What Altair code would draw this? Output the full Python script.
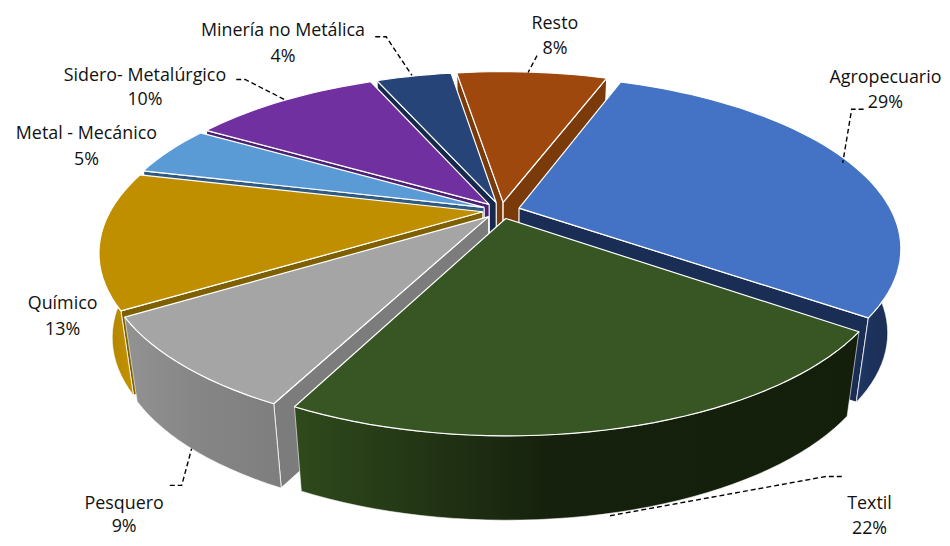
import math
import altair as alt
import pandas as pd

sectors = ["Agropecuario", "Textil", "Pesquero", "Químico", "Metal - Mecánico",
           "Sidero- Metalúrgico", "Minería no Metálica", "Resto"]
pct_labels = ["29%", "22%", "9%", "13%", "5%", "10%", "4%", "8%"]
# unrounded estimates behind the printed percentages
shares = [29.4, 22.45, 8.7, 12.7, 4.75, 10, 4, 8]
top_colors = ["#4472C4", "#375623", "#A5A5A5", "#BF8F00", "#5B9BD5", "#7030A0", "#264478", "#9E480E"]
wall_left = ["#1F3864", "#2F4A1C", "#929292", "#A87E00", "#3F6E98", "#4F2272", "#1A2F55", "#7A3A0A"]
wall_mid = ["#1C3059", "#16210D", "#868686", "#B58800", "#3F6E98", "#4F2272", "#1A2F55", "#7A3A0A"]
wall_right = ["#1A2E54", "#131E0B", "#7E7E7E", "#C59300", "#3F6E98", "#4F2272", "#1A2F55", "#7A3A0A"]
face_colors = ["#1A2D54", "#1F3015", "#7C7C7C", "#7F6000", "#2F5A82", "#4A2070", "#16294D", "#7A3A0A"]

label_x = [892, 876, 125, 63, 87, 146, 285, 559]
label_y1 = [77, 506, 506, 304, 133, 75, 29, 22]
label_y2 = [102, 531, 529, 330, 159, 99, 55, 47]

leaders = [
    [(870, 108), (858, 108), (849, 162)],
    [(848, 478), (832, 478), (612, 518)],
    [(171, 487), (183, 487), (193, 450)],
    [(378, 35), (389, 35), (415, 74)],
    [(238, 78), (247, 78), (288, 99)],
    [(541, 54), (532, 71)],
]

CX, CY, RX, RY, K, EXPL, START = 505, 210, 375, 165, 0.227, 0.05, 20.0
DROP, SHRINK = 85, 0.967


def project(wx, wy, low=False):
    p = 1 / (1 + K * wy)
    sx = CX + RX * wx * p
    sy = CY - RY * wy * p
    if low:
        sx = CX + (sx - CX) * SHRINK
        sy = sy + DROP
    return sx, sy


def world_arc(a0, a1, bis):
    ox, oy = EXPL * math.sin(bis), EXPL * math.cos(bis)
    n = max(6, int(abs(a1 - a0) / math.radians(2)))
    angs = [a0 + (a1 - a0) * i / n for i in range(n + 1)]
    return (ox, oy), [(ox + math.sin(a), oy + math.cos(a)) for a in angs], angs


x_scale = alt.Scale(domain=[8, 942], nice=False, zero=False)
y_scale = alt.Scale(domain=[538, 8], nice=False, zero=False)


def poly(points, fill, stroke="white", width=1.2):
    df = pd.DataFrame({"px": [p[0] for p in points] + [points[0][0]],
                       "py": [p[1] for p in points] + [points[0][1]],
                       "i": list(range(len(points) + 1))})
    return alt.Chart(df).mark_line(fill=fill, stroke=stroke, strokeWidth=width, strokeJoin="round").encode(
        x=alt.X("px:Q", scale=x_scale, axis=None),
        y=alt.Y("py:Q", scale=y_scale, axis=None),
        order=alt.Order("i:Q"),
    )


total = sum(shares)
slices = []
angle = math.radians(START)
for i, s in enumerate(shares):
    sweep = math.radians(360 * s / total)
    slices.append((i, angle, angle + sweep, angle + sweep / 2))
    angle += sweep

layers = []
for i, a0, a1, bis in sorted(slices, key=lambda t: -math.cos(t[3])):
    apex, arc, angs = world_arc(a0, a1, bis)
    top = [project(*apex)] + [project(*q) for q in arc]
    face = face_colors[i]
    # radial faces turned towards the viewer
    if math.sin(a0) < 0:
        layers.append(poly([project(*apex), project(*arc[0]), project(*arc[0], low=True), project(*apex, low=True)], face))
    if math.sin(a1) > 0:
        layers.append(poly([project(*apex), project(*arc[-1]), project(*arc[-1], low=True), project(*apex, low=True)], face))
    # outer wall, only where it faces the viewer
    vis = [q for q, a in zip(arc, angs) if math.cos(a) <= 0.08]
    if len(vis) >= 2:
        upper = [project(*q) for q in vis]
        lower = [project(*q, low=True) for q in vis]
        grad = alt.Gradient(gradient="linear", x1=0, x2=1, y1=0, y2=0,
                            stops=[alt.GradientStop(color=wall_left[i], offset=0),
                                   alt.GradientStop(color=wall_mid[i], offset=0.45),
                                   alt.GradientStop(color=wall_right[i], offset=1)])
        layers.append(poly(upper + lower[::-1], grad, stroke="white", width=0.6))
    layers.append(poly(top, top_colors[i]))

for pts in leaders:
    df = pd.DataFrame({"px": [p[0] for p in pts], "py": [p[1] for p in pts], "i": range(len(pts))})
    layers.append(alt.Chart(df).mark_line(color="black", strokeWidth=1.4, strokeDash=[5, 3]).encode(
        x=alt.X("px:Q", scale=x_scale, axis=None),
        y=alt.Y("py:Q", scale=y_scale, axis=None),
        order=alt.Order("i:Q"),
    ))

labels = pd.DataFrame({
    "px": label_x + label_x,
    "py": label_y1 + label_y2,
    "t": sectors + pct_labels,
})
layers.append(alt.Chart(labels).mark_text(font="Open Sans", fontSize=18, color="#111111", align="center", baseline="middle").encode(
    x=alt.X("px:Q", scale=x_scale, axis=None),
    y=alt.Y("py:Q", scale=y_scale, axis=None),
    text="t:N",
))

chart = alt.layer(*layers).properties(width=934, height=530, padding=0).configure_view(stroke=None)
chart.save("out.html", embed_options={"renderer": "svg", "actions": False})
